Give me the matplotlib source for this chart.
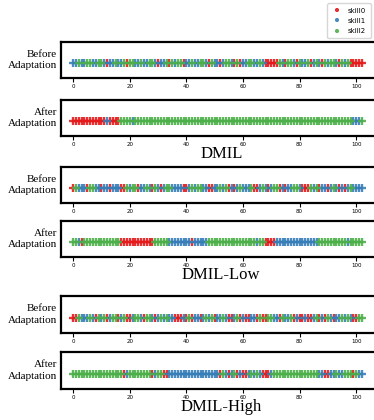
import numpy as np
import matplotlib
matplotlib.use("Agg")
import matplotlib.pyplot as plt

# skill index per step (0 = skill0, 1 = skill1, 2 = skill2)
dmil_before = ("112112211221" "0" "112112" "0" "2211211221" "0" "112" "0" "2122" "0"
               "11211221" "0" "211" "0" "1221" "0" "2" "0" "11221121" "00000" "21" "0"
               "221" "0" "2112" "0" "121" "0" "21221" "0" "212" "00000")
dmil_after = "0" * 12 + "1" + "0" * 4 + "2" * 4 + "1" + "2" * 77 + "111" + "2"
low_before = ("0211102211" "0110111002" "1220112102" "1012211110" "0121221100"
              "1121201012" "1112001210" "1220101122" "1000212011" "0121010121" "111")
low_after = ("22" "1" "0" + "2" * 13 + "0" * 12 + "2" * 5 + "1" * 8 + "0" + "1" * 5
             + "2" * 17 + "1" + "22" + "0000" + "1" * 15 + "2" * 10 + "1" + "22222")
high_before = ("0021112102" "1201220120" "0122102210" "1212110001" "0201101212"
               "0112100120" "1001102002" "2110211201" "0010012010" "2101121210" "022")
high_after = ("2" * 18 + "0" + "1" + "2" * 8 + "0" + "1" + "22" + "00" + "1" * 18 + "0"
              + "21" + "0" + "12" + "0" + "1" + "00" + "12121" + "000" + "12" + "2" * 15
              + "11" + "00" + "11211" + "222" + "0" + "2" + "11")

rows = [dmil_before, dmil_after, low_before, low_after, high_before, high_after]
row_labels = ["Before\nAdaptation", "After\nAdaptation"] * 3
titles = [None, "DMIL", None, "DMIL-Low", None, "DMIL-High"]
skill_names = ["skill0", "skill1", "skill2"]
colors = ["#e41a1c", "#377eb8", "#4daf4a"]
xticks = [0, 20, 40, 60, 80, 100]

W, H = 374, 420
fig = plt.figure(figsize=(W / 100, H / 100), dpi=100)

# top / bottom pixel of each strip frame
boxes = [(42, 78), (100, 136), (167, 203), (221, 257), (296, 333), (352, 389)]
left_px = 61

for k, seq in enumerate(rows):
    top, bot = boxes[k]
    ax = fig.add_axes([left_px / W, 1 - bot / H, 1.02 - left_px / W, (bot - top) / H])
    s = np.array([int(c) for c in seq])
    x = np.arange(len(s))
    for j in range(3):
        m = s == j
        ax.plot(x[m], np.zeros(m.sum()), ls="none", marker="+", ms=5.5, mew=1.7,
                color=colors[j], alpha=0.9, label=skill_names[j])
    ax.set_xlim(-4.3, -4.3 + (1.02 * W - left_px) / 2.83)
    ax.set_ylim(-0.72, 1)
    ax.set_yticks([])
    ax.set_xticks(xticks)
    ax.tick_params(axis="x", labelsize=4, length=3, width=0.8, pad=1.5)
    for sp in ax.spines.values():
        sp.set_linewidth(1.6)
    ax.set_ylabel(row_labels[k], rotation=0, ha="right", va="center",
                  family="Liberation Serif", fontsize=8, labelpad=3, linespacing=1.35)
    if titles[k]:
        ax.set_xlabel(titles[k], family="Liberation Serif", fontsize=12, labelpad=-1)
    if k == 0:
        handles, labs = ax.get_legend_handles_labels()

leg = fig.legend(handles, labs, loc="upper right", bbox_to_anchor=(1.0, 1.0),
                 fontsize=5, markerscale=0.6, handlelength=1.6, frameon=True,
                 borderpad=0.6, labelspacing=0.6, handletextpad=0.8)

fig.savefig("out.png", dpi=100)
